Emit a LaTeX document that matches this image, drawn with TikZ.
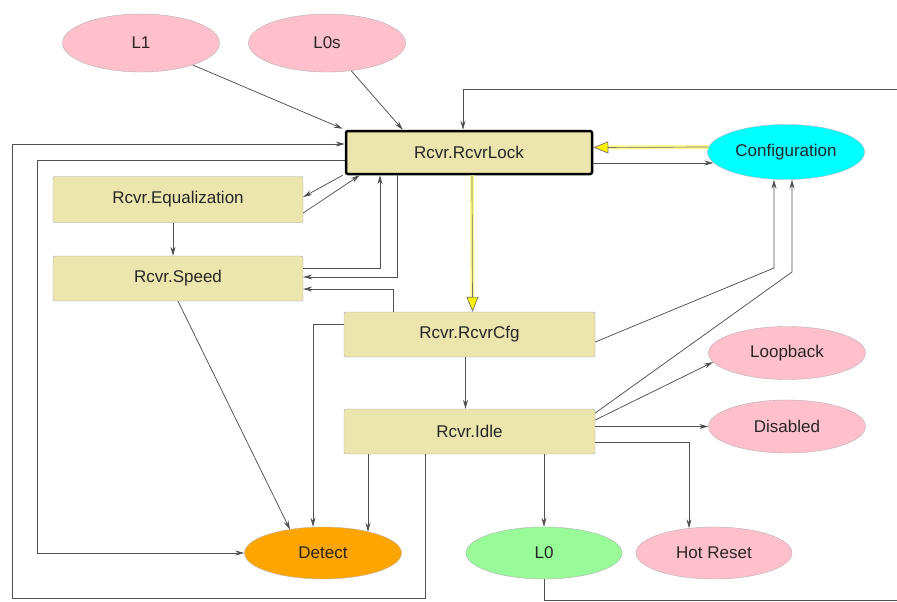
\documentclass[tikz,border=0pt]{standalone}
\usepackage{fontspec}
\setmainfont{Liberation Sans}
\usetikzlibrary{arrows.meta,shapes.geometric}
\definecolor{boxc}{RGB}{236,229,174}
\definecolor{pinkc}{RGB}{255,192,203}
\definecolor{greenc}{RGB}{152,250,152}
\definecolor{orangec}{RGB}{255,165,0}
\definecolor{cyanc}{RGB}{0,255,255}
\definecolor{linec}{RGB}{80,80,80}
\begin{document}
\begin{tikzpicture}[x=1pt,y=-1pt,
  every node/.style={font=\fontsize{17}{20}\selectfont, text=black!85},
  box/.style={draw=black!35, fill=boxc, rounded corners=2pt, inner sep=0pt,
    minimum width=250pt, minimum height=45pt},
  lockbox/.style={box, draw=black, line width=2.5pt, minimum width=246pt, minimum height=43pt},
  oval/.style={ellipse, draw=black!30, inner sep=0pt, minimum width=157pt, minimum height=53pt},
  arr/.style={draw=linec, line width=0.75pt, -{Stealth[length=9pt,width=5pt]}},
  yglow/.style={draw=yellow!45, line width=4pt},
  yarr/.style={draw=black!55, line width=0.7pt, -{Triangle[length=15pt,width=12pt,fill=yellow]}}
]
\useasboundingbox[fill=white] (0,0) rectangle (897,602);

% nodes
\node[oval, fill=pinkc, minimum height=58pt] (L1) at (141,43) {L1};
\node[oval, fill=pinkc, minimum height=58pt] (L0s) at (327,43) {L0s};
\node[lockbox] (lock) at (469,152.5) {Rcvr.RcvrLock};
\node[oval, fill=cyanc, minimum height=55pt] (conf) at (786,152) {Configuration};
\node[box, minimum height=46pt] (eq) at (178,199.5) {Rcvr.Equalization};
\node[box] (speed) at (178,278.5) {Rcvr.Speed};
\node[box, minimum width=251pt] (cfg) at (469.5,334.5) {Rcvr.RcvrCfg};
\node[box, minimum width=251pt] (idle) at (469.5,431.5) {Rcvr.Idle};
\node[oval, fill=pinkc] (loop) at (787,353) {Loopback};
\node[oval, fill=pinkc] (dis) at (787,426.5) {Disabled};
\node[oval, fill=greenc, minimum width=156pt, minimum height=52pt] (L0) at (544,553) {L0};
\node[oval, fill=pinkc, minimum width=156pt, minimum height=52pt] (hot) at (714,553) {Hot Reset};
\node[oval, fill=orangec, minimum height=52pt] (detect) at (323,553) {Detect};

\coordinate (topin) at (897,89);
\coordinate (botout) at (897,600);

% yellow transitions
\draw[yglow, shorten >=12pt] ([xshift=3pt]lock.south) -- ([xshift=3pt]cfg.north);
\draw[yarr] ([xshift=3pt]lock.south) -- ([xshift=3pt]cfg.north);
\draw[yglow, shorten >=12pt] ([xshift=1pt,yshift=5pt]conf.west) -- ([yshift=5pt]lock.east);
\draw[yarr] ([xshift=1pt,yshift=5pt]conf.west) -- ([yshift=5pt]lock.east);

% connectors
\draw[arr] (L1) -- ([xshift=-2pt,yshift=1pt]lock.north west);
\draw[arr] (L0s) -- ([xshift=58pt]lock.north west);
\draw[arr] (topin) -| ([xshift=-6pt]lock.north);
\draw[arr] ([xshift=-44.5pt]idle.south) |- (12,598) |- ([yshift=8.5pt]lock.west);
\draw[arr] ([yshift=-7.5pt]lock.west) -| (37,553) -- (detect.west);
\draw[arr] ([xshift=-2pt]lock.south west) -- ([yshift=2.5pt]eq.east);
\draw[arr] ([yshift=-13.5pt]eq.east) -- ([xshift=15pt]lock.south west);
\draw[arr] ([xshift=-5pt]eq.south) -- ([xshift=-5pt]speed.north);
\draw[arr] ([yshift=10.5pt]speed.east) -| ([xshift=-89pt]lock.south);
\draw[arr] ([xshift=-72pt]lock.south) |- ([yshift=1.5pt]speed.east);
\draw[arr] ([xshift=-76.5pt]cfg.north) |- ([yshift=-10.5pt]speed.east);
\draw[arr] (speed.south) -- ([xshift=-33pt,yshift=23.5pt]detect.center);
\draw[arr] ([yshift=10.5pt]cfg.west) -| ([xshift=-10pt]detect.north);
\draw[arr] ([xshift=-101.5pt]idle.south) -- ([xshift=45pt,yshift=21.3pt]detect.center);
\draw[arr] ([yshift=-10.5pt]lock.east) -- ([xshift=6pt,yshift=-11pt]conf.west);
\draw[arr] ([yshift=-7.5pt]cfg.east) -- (774,268) -- ([xshift=-12pt]conf.south);
\draw[arr] ([yshift=18.5pt]idle.east) -- (792,272) -- ([xshift=6pt]conf.south);
\draw[arr] ([yshift=11.5pt]idle.east) -- (loop.187);
\draw[arr] (dis.west -| idle.east) -- (dis.west);
\draw[arr] ([yshift=-10.5pt]idle.east) -| ([xshift=-25pt,yshift=-1.5pt]hot.north);
\draw[arr] (idle.south -| L0.north) -- (L0.north);
\draw[arr] ([xshift=-4pt]cfg.south) -- ([xshift=-4pt]idle.north);
\draw[draw=linec, line width=0.75pt] (L0.south) |- (botout);
\end{tikzpicture}
\end{document}
